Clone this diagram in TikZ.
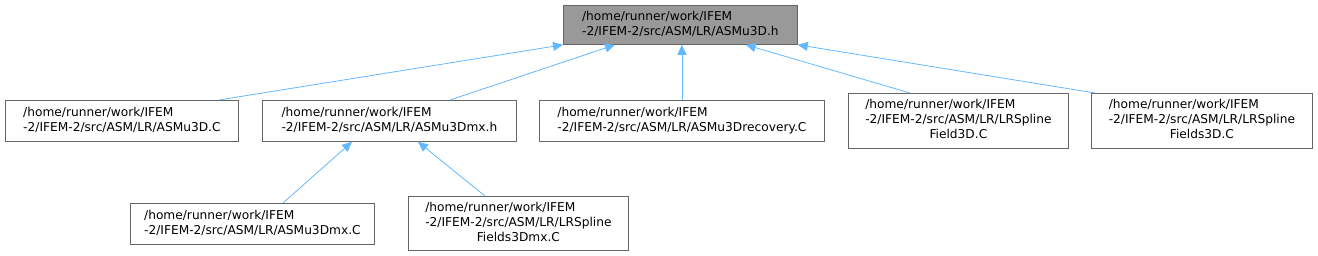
\documentclass[tikz,border=0pt]{standalone}
\usepackage{fontspec}
\setmainfont{DejaVu Sans}
\usetikzlibrary{arrows.meta}
\definecolor{edgeblue}{HTML}{63B8FF}
\definecolor{boxgray}{HTML}{666666}
\definecolor{rootfill}{HTML}{999999}
\tikzset{
  filebox/.style={draw=boxgray, line width=0.8pt, fill=white, inner sep=0pt, anchor=north west,
    font=\fontsize{12.2}{15}\selectfont, text=black},
  rootbox/.style={filebox, fill=rootfill},
  dep/.style={draw=edgeblue, line width=0.8pt, {Triangle[length=10pt,width=9pt,fill=edgeblue]}-},
}
\newcommand{\twol}[2]{\begin{tabular}{@{}l@{}}#1\\#2\end{tabular}}
\newcommand{\threel}[3]{\begin{tabular}{@{}l@{}}#1\\#2\\\multicolumn{1}{@{}c@{}}{#3}\end{tabular}}
\begin{document}
\begin{tikzpicture}[x=1pt,y=-1pt]
\useasboundingbox (0,0) rectangle (1318,256);
\node[rootbox, minimum width=234pt, minimum height=39pt] (root) at (563,5)
  {\twol{/home/runner/work/IFEM}{-2/IFEM-2/src/ASM/LR/ASMu3D.h}};
\node[filebox, minimum width=233pt, minimum height=41pt] (c1) at (5,100)
  {\twol{/home/runner/work/IFEM}{-2/IFEM-2/src/ASM/LR/ASMu3D.C}};
\node[filebox, minimum width=254pt, minimum height=41pt] (mxh) at (262,100)
  {\twol{/home/runner/work/IFEM}{-2/IFEM-2/src/ASM/LR/ASMu3Dmx.h}};
\node[filebox, minimum width=285pt, minimum height=41pt] (rec) at (539,100)
  {\twol{/home/runner/work/IFEM}{-2/IFEM-2/src/ASM/LR/ASMu3Drecovery.C}};
\node[filebox, minimum width=220pt, minimum height=55pt] (lf) at (848,93)
  {\threel{/home/runner/work/IFEM}{-2/IFEM-2/src/ASM/LR/LRSpline}{Field3D.C}};
\node[filebox, minimum width=221pt, minimum height=55pt] (lfs) at (1091,93)
  {\threel{/home/runner/work/IFEM}{-2/IFEM-2/src/ASM/LR/LRSpline}{Fields3D.C}};
\node[filebox, minimum width=244pt, minimum height=41pt] (mxc) at (130,203)
  {\twol{/home/runner/work/IFEM}{-2/IFEM-2/src/ASM/LR/ASMu3Dmx.C}};
\node[filebox, minimum width=220pt, minimum height=54pt] (lfsmx) at (408,196)
  {\threel{/home/runner/work/IFEM}{-2/IFEM-2/src/ASM/LR/LRSpline}{Fields3Dmx.C}};
\draw[dep] (root.south west) -- ([xshift=-20pt]c1.north east);
\draw[dep] ([xshift=52pt]root.south west) -- ([xshift=188pt]mxh.north west);
\draw[dep] (root.south -| rec.north) -- (rec.north);
\draw[dep] ([xshift=-52pt]root.south east) -- ([xshift=62pt]lf.north west);
\draw[dep] (root.south east) -- ([xshift=4pt]lfs.north west);
\draw[dep] ([xshift=90pt]mxh.south west) -- ([xshift=153pt]mxc.north west);
\draw[dep] ([xshift=156pt]mxh.south west) -- ([xshift=77pt]lfsmx.north west);
\end{tikzpicture}
\end{document}
